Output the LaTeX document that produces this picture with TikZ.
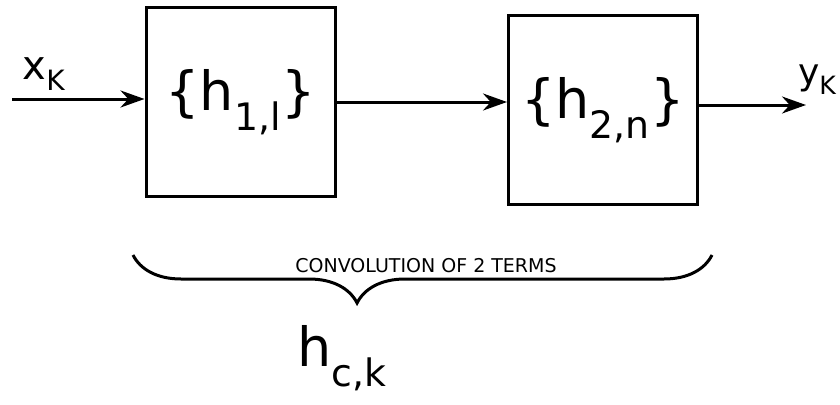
\documentclass[tikz,border=0pt]{standalone}
\usepackage{fontspec}
\setmainfont{DejaVu Sans}
\usetikzlibrary{decorations.pathreplacing,arrows.meta}
\begin{document}
\begin{tikzpicture}[x=1pt,y=-1pt,line width=3pt,
  blk/.style={draw,minimum width=189pt,minimum height=188pt,inner sep=0pt,font=\fontsize{54}{60}\selectfont},
  conn/.style={-{Stealth[length=24pt,width=17pt]}},
  lbl/.style={font=\fontsize{40}{44}\selectfont,inner sep=0pt},
  note/.style={font=\fontsize{19}{22}\selectfont,inner sep=0pt}]
\useasboundingbox (0,0) rectangle (840,404);
\node[blk] (b1) at (240.5,102) {\{h\textsubscript{1,l}\}};
\node[blk] (b2) at (603,110) {\{h\textsubscript{2,n}\}};
\coordinate (in) at (12,99);
\coordinate (out) at (806,105);
\draw[conn] (in) -- (b1.west |- in);
\draw[conn] (b1.east) -- (b2.west |- b1.east);
\draw[conn] (b2.east |- out) -- (out);
\node[lbl] (x) at (44,74) {x\textsubscript{K}};
\node[lbl,font=\fontsize{36}{40}\selectfont,anchor=east] (y) at (838,80) {y\textsubscript{K}};
\coordinate (bl) at (133,255);
\coordinate (br) at (712,255);
\draw[decorate,decoration={brace,mirror,amplitude=48pt,aspect=0.387}] (bl) -- (br);
\node[note] (conv) at (426,266) {CONVOLUTION OF 2 TERMS};
\node[lbl,font=\fontsize{54}{58}\selectfont] (hc) at (342,358) {h\textsubscript{c,k}};
\end{tikzpicture}
\end{document}
